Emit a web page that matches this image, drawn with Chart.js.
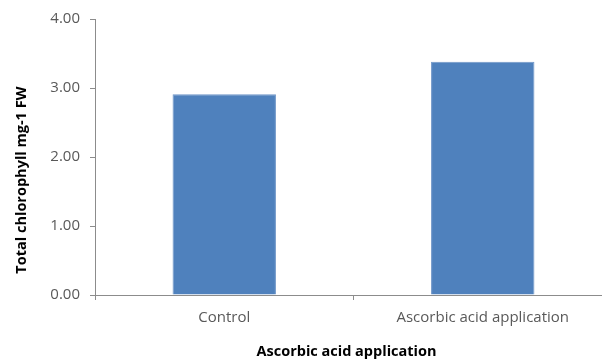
<!DOCTYPE html>
<html>
<head>
<meta charset="utf-8">
<script src="https://cdn.jsdelivr.net/npm/chart.js@4"></script>
<style>
  html, body { margin: 0; padding: 0; background: #fff; overflow: hidden; }
  #wrap { width: 612px; height: 362px; position: relative; }
</style>
</head>
<body>
<div id="wrap"><canvas id="c"></canvas></div>
<script>
const categories = ['Control', 'Ascorbic acid application'];
const chlorophyll = [2.91, 3.38];
const yTicks = [0, 1, 2, 3, 4];
const xTitle = 'Ascorbic acid application';
const yTitle = 'Total chlorophyll mg-1 FW';

const axisColor = '#8c8c8c';
const tickColor = '#595959';
const fontFamily = "'Open Sans', 'Liberation Sans', sans-serif";
const titleFont = "bold 14.5px 'Open Sans', 'Liberation Sans', sans-serif";

// Axis titles, placed relative to the plot area
const axisTitles = {
  id: 'axisTitles',
  afterDraw(chart) {
    const { ctx, chartArea: a } = chart;
    ctx.save();
    ctx.fillStyle = '#000';
    ctx.font = titleFont;
    ctx.textAlign = 'center';
    ctx.textBaseline = 'middle';
    ctx.fillText(xTitle, (a.left + a.right) / 2 - 7, a.bottom + 57);
    ctx.translate(a.left - 73, (a.top + a.bottom) / 2 + 23);
    ctx.rotate(-Math.PI / 2);
    ctx.fillText(yTitle, 0, 0);
    ctx.restore();
  }
};

new Chart(document.getElementById('c'), {
  type: 'bar',
  data: {
    labels: categories,
    datasets: [{
      data: chlorophyll,
      backgroundColor: '#4f81bd',
      borderColor: '#6f96c8',
      borderWidth: 1,
      categoryPercentage: 1,
      barPercentage: 0.4
    }]
  },
  plugins: [axisTitles],
  options: {
    responsive: true,
    maintainAspectRatio: false,
    animation: false,
    layout: { padding: { top: 17, right: 0, bottom: 0, left: 0 } },
    plugins: { legend: { display: false }, tooltip: { enabled: false } },
    scales: {
      x: {
        grid: { display: true, drawOnChartArea: false, color: axisColor, tickLength: 5, offset: true },
        border: { color: axisColor, width: 1 },
        ticks: { color: tickColor, font: { family: fontFamily, size: 15 }, padding: 9 },
        afterFit: s => { s.height = 67; }
      },
      y: {
        min: 0,
        max: 4,
        afterBuildTicks: s => { s.ticks = yTicks.map(v => ({ value: v })); },
        grid: { display: true, drawOnChartArea: false, color: axisColor, tickLength: 5 },
        border: { color: axisColor, width: 1 },
        ticks: {
          color: tickColor,
          font: { family: fontFamily, size: 15 },
          padding: 10,
          callback: v => Number(v).toFixed(2)
        },
        afterFit: s => { s.width = 95; }
      }
    }
  }
});
</script>
</body>
</html>
